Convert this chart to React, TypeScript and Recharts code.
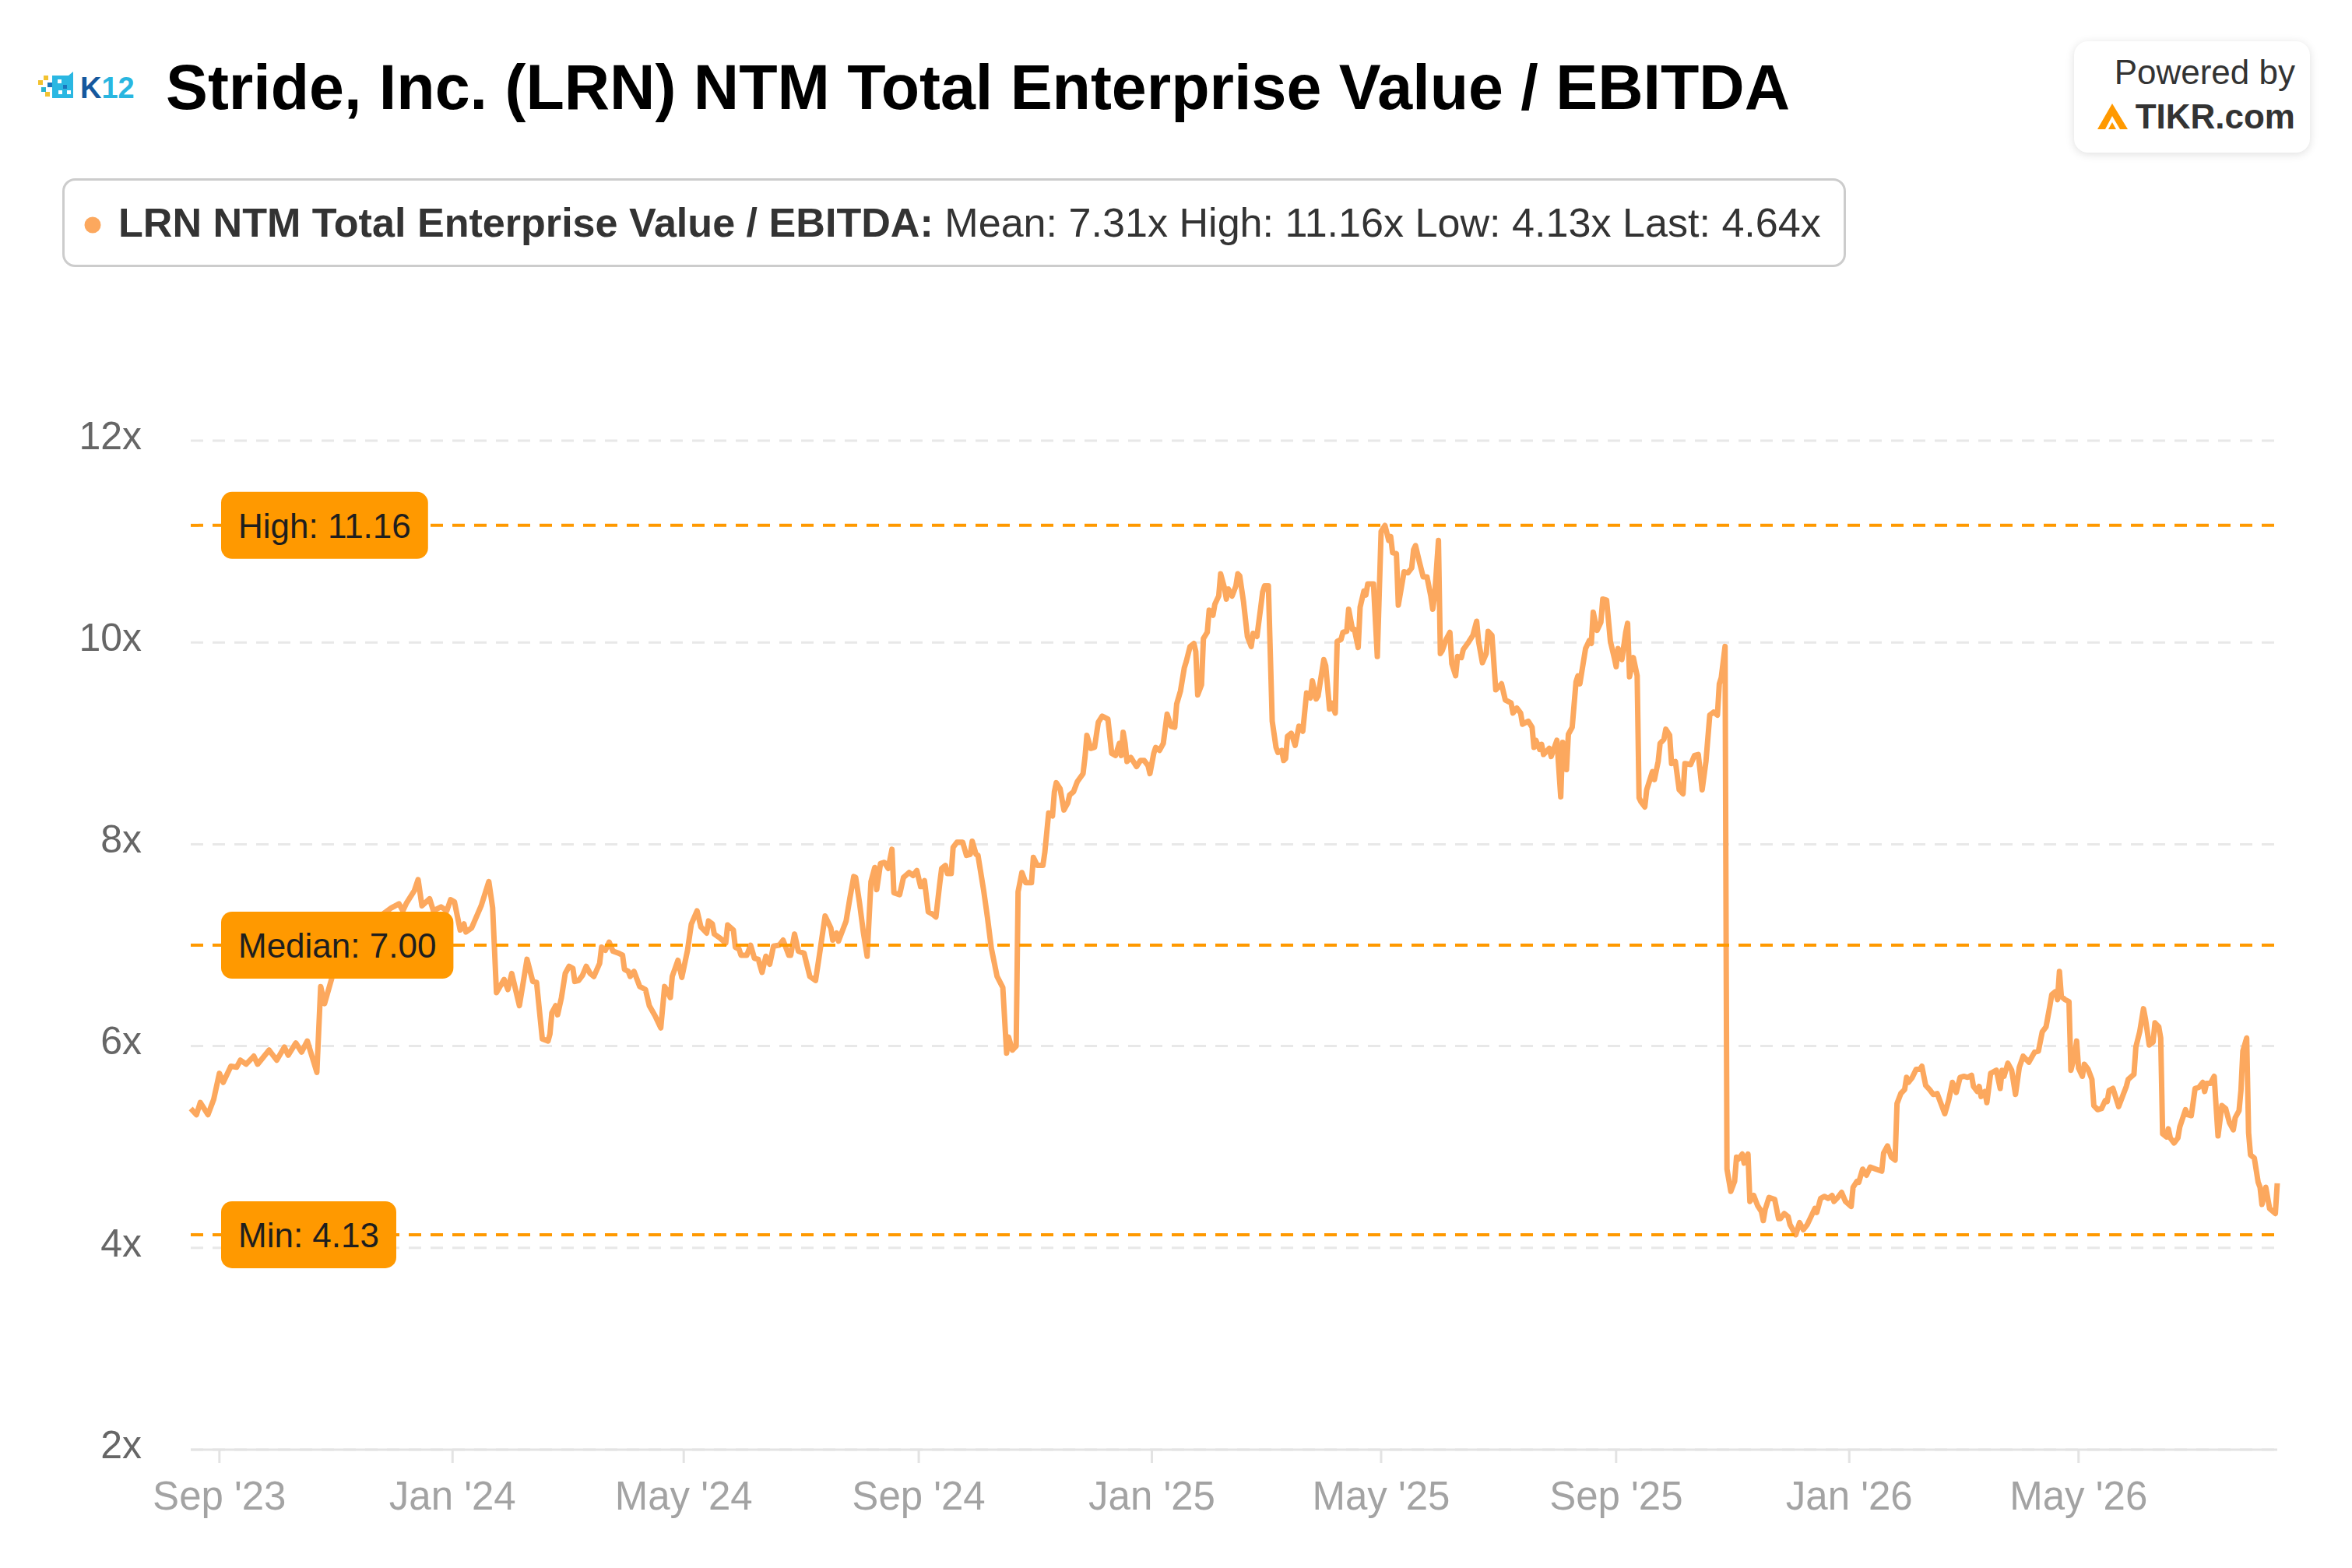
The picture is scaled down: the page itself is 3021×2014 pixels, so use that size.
import React from "react";
import {
  CartesianGrid,
  Line,
  LineChart,
  ReferenceLine,
  XAxis,
  YAxis,
} from "recharts";

const FONT = '"Liberation Sans", Arial, Helvetica, sans-serif';
const LINE_COLOR = "#fca85e";
const MARK_COLOR = "#ff9900";

// first data point is 17 Aug 2023, offsets below are days from it
const START = Date.UTC(2023, 7, 17);
const DAY = 86400000;

const offsetDays = [
  0, 3, 5, 9, 12, 15, 17, 21, 24, 26, 29, 33, 35, 41, 45, 49, 51, 55, 58, 61,
  66, 68, 70, 75, 81, 88, 94, 100, 105, 109, 111, 113, 117, 119, 121, 125, 127, 131, 134, 136,
  138, 141, 143, 144, 147, 152, 156, 158, 160, 164, 166, 168, 172, 176, 179, 181, 184, 187, 188, 189,
  191, 192, 194, 196, 198, 200, 201, 203, 205, 207, 209, 211, 214, 215, 217, 219, 221, 224, 226, 227,
  229, 230, 232, 235, 238, 240, 243, 246, 248, 249, 251, 252, 255, 257, 260, 262, 265, 267, 270, 271,
  273, 274, 277, 280, 281, 284, 285, 287, 288, 291, 293, 295, 297, 299, 301, 303, 305, 308, 310, 313,
  314, 316, 318, 321, 324, 327, 329, 332, 335, 336, 338, 339, 343, 345, 347, 348, 350, 352, 354, 356,
  358, 359, 361, 363, 365, 367, 368, 371, 373, 376, 378, 380, 382, 383, 384, 386, 388, 390, 392, 393,
  395, 396, 398, 399, 401, 403, 404, 406, 408, 409, 411, 412, 415, 417, 419, 422, 425, 427, 428, 430,
  432, 433, 435, 437, 440, 441, 443, 446, 447, 449, 451, 452, 453, 455, 457, 459, 460, 462, 464, 467,
  468, 469, 471, 473, 475, 477, 478, 480, 482, 484, 486, 487, 488, 489, 490, 492, 495, 497, 499, 501,
  502, 504, 505, 507, 509, 511, 513, 515, 516, 518, 520, 521, 523, 525, 526, 527, 529, 530, 532, 533,
  535, 536, 538, 539, 541, 542, 543, 545, 547, 548, 549, 551, 553, 555, 556, 558, 560, 561, 562, 564,
  566, 568, 569, 571, 572, 573, 574, 576, 578, 580, 582, 584, 586, 587, 589, 590, 593, 594, 596, 597,
  599, 600, 602, 603, 605, 606, 608, 609, 611, 612, 614, 615, 616, 619, 621, 623, 625, 627, 628, 629,
  631, 632, 635, 637, 639, 640, 641, 643, 645, 647, 649, 650, 651, 653, 654, 655, 657, 659, 660, 662,
  663, 665, 666, 669, 671, 673, 674, 676, 678, 679, 681, 683, 686, 688, 691, 692, 694, 696, 697, 700,
  702, 703, 704, 706, 707, 708, 711, 712, 715, 717, 718, 720, 721, 723, 725, 726, 727, 730, 732, 733,
  734, 736, 738, 739, 741, 743, 745, 746, 747, 749, 751, 752, 753, 755, 757, 758, 759, 761, 762, 763,
  765, 766, 768, 769, 771, 772, 774, 775, 777, 779, 781, 782, 785, 787, 789, 791, 793, 795, 797, 799,
  800, 801, 803, 804, 806, 808, 809, 810, 812, 813, 815, 816, 818, 820, 822, 823, 824, 826, 829, 831,
  832, 834, 836, 837, 840, 842, 844, 846, 848, 850, 851, 853, 855, 857, 859, 860, 862, 864, 866, 869,
  870, 872, 873, 875, 877, 879, 882, 885, 886, 888, 890, 892, 893, 895, 897, 898, 899, 901, 903, 905,
  906, 908, 910, 912, 914, 916, 918, 920, 922, 924, 926, 928, 930, 932, 933, 935, 936, 937, 939, 940,
  942, 943, 945, 947, 948, 949, 951, 953, 955, 957, 959, 962, 965, 967, 969, 971, 973, 974, 976, 977,
  978, 979, 981, 983, 984, 986, 987, 988, 990, 991, 993, 995, 996, 998, 1000, 1002, 1003, 1004, 1006, 1009,
  1013, 1014, 1017, 1018, 1020, 1022, 1023, 1025, 1027, 1028, 1030, 1031, 1032, 1034, 1035, 1036, 1038, 1040, 1041, 1044,
  1045, 1047, 1049, 1051, 1053, 1054, 1055, 1057, 1059, 1060, 1061, 1063, 1065, 1067, 1069, 1070, 1072, 1073, 1074, 1076,
  1077, 1078, 1080, 1082, 1083, 1084, 1086, 1088, 1091, 1092,
];

const evEbitda = [
  5.38, 5.32, 5.44, 5.32, 5.47, 5.73, 5.64, 5.8, 5.79, 5.86, 5.82, 5.9, 5.82, 5.96, 5.86, 5.99, 5.91, 6.03, 5.94, 6.05,
  5.74, 6.59, 6.42, 6.75, 6.95, 7.1, 7.2, 7.3, 7.37, 7.41, 7.34, 7.42, 7.54, 7.65, 7.39, 7.46, 7.34, 7.38, 7.34, 7.45,
  7.43, 7.15, 7.21, 7.13, 7.17, 7.39, 7.63, 7.37, 6.53, 6.66, 6.56, 6.72, 6.4, 6.86, 6.64, 6.63, 6.07, 6.05, 6.12, 6.33,
  6.4, 6.31, 6.48, 6.72, 6.79, 6.77, 6.64, 6.65, 6.7, 6.79, 6.72, 6.69, 6.82, 6.98, 6.95, 7.03, 6.94, 6.92, 6.9, 6.76,
  6.74, 6.69, 6.74, 6.59, 6.56, 6.4, 6.3, 6.18, 6.59, 6.56, 6.48, 6.69, 6.85, 6.68, 6.95, 7.21, 7.34, 7.18, 7.12, 7.24,
  7.21, 7.11, 7.07, 7.02, 7.2, 7.15, 6.98, 6.96, 6.9, 6.9, 7.0, 6.87, 6.86, 6.73, 6.89, 6.81, 6.99, 7.0, 7.05, 6.9,
  6.9, 7.11, 6.94, 6.92, 6.69, 6.65, 6.9, 7.29, 7.17, 7.05, 7.12, 7.04, 7.24, 7.47, 7.68, 7.67, 7.42, 7.13, 6.89, 7.63,
  7.77, 7.55, 7.81, 7.82, 7.76, 7.95, 7.52, 7.5, 7.67, 7.72, 7.69, 7.74, 7.58, 7.58, 7.64, 7.33, 7.31, 7.28, 7.61, 7.76,
  7.79, 7.71, 7.71, 7.97, 8.02, 8.02, 8.02, 7.89, 7.9, 8.03, 7.9, 7.89, 7.54, 7.27, 6.97, 6.69, 6.58, 5.93, 6.09, 5.96,
  6.0, 7.53, 7.72, 7.62, 7.62, 7.87, 7.79, 7.79, 7.92, 8.31, 8.28, 8.52, 8.61, 8.55, 8.34, 8.41, 8.49, 8.52, 8.62, 8.7,
  8.86, 9.08, 8.95, 8.96, 9.21, 9.27, 9.26, 9.24, 8.9, 8.88, 9.0, 8.88, 9.11, 9.0, 8.82, 8.86, 8.77, 8.83, 8.83, 8.78,
  8.7, 8.9, 8.96, 8.93, 9.0, 9.29, 9.17, 9.16, 9.39, 9.52, 9.75, 9.81, 9.96, 9.99, 9.91, 9.48, 9.58, 10.04, 10.1, 10.32,
  10.27, 10.38, 10.46, 10.68, 10.54, 10.43, 10.53, 10.46, 10.56, 10.68, 10.66, 10.4, 10.06, 9.96, 10.09, 10.06, 10.35, 10.5, 10.56, 10.56,
  9.22, 8.96, 8.91, 8.93, 8.83, 8.85, 9.07, 9.1, 8.98, 9.17, 9.12, 9.5, 9.45, 9.62, 9.44, 9.47, 9.83, 9.77, 9.34, 9.4,
  9.3, 10.01, 10.03, 10.1, 10.11, 10.33, 10.13, 10.13, 9.95, 10.35, 10.51, 10.47, 10.58, 10.58, 9.86, 11.1, 11.16, 11.01, 11.05, 10.89,
  10.88, 10.37, 10.7, 10.69, 10.74, 10.92, 10.96, 10.8, 10.65, 10.65, 10.46, 10.33, 10.46, 11.01, 9.89, 9.92, 10.03, 10.1, 9.79, 9.67,
  9.86, 9.85, 9.93, 10.01, 10.07, 10.21, 10.01, 9.8, 9.89, 10.11, 10.07, 9.53, 9.59, 9.43, 9.4, 9.3, 9.35, 9.3, 9.19, 9.22,
  9.16, 8.96, 9.03, 8.94, 8.99, 8.89, 8.95, 8.87, 9.03, 8.47, 9.01, 8.74, 9.09, 9.16, 9.61, 9.67, 9.59, 9.94, 10.02, 9.99,
  10.3, 10.12, 10.2, 10.43, 10.42, 10.01, 9.85, 9.76, 9.94, 9.83, 10.1, 10.19, 9.66, 9.85, 9.67, 8.46, 8.42, 8.37, 8.54, 8.6,
  8.72, 8.64, 8.82, 9.0, 9.04, 9.14, 9.08, 8.8, 8.82, 8.54, 8.5, 8.8, 8.79, 8.88, 8.89, 8.54, 8.82, 9.28, 9.31, 9.28,
  9.59, 9.65, 9.96, 4.78, 4.56, 4.66, 4.9, 4.88, 4.93, 4.84, 4.93, 4.46, 4.52, 4.42, 4.36, 4.27, 4.38, 4.5, 4.48, 4.29,
  4.29, 4.34, 4.31, 4.23, 4.13, 4.25, 4.18, 4.23, 4.31, 4.39, 4.35, 4.49, 4.51, 4.49, 4.52, 4.46, 4.5, 4.55, 4.46, 4.41,
  4.6, 4.66, 4.65, 4.78, 4.72, 4.8, 4.78, 4.76, 4.94, 5.01, 4.9, 4.87, 5.43, 5.53, 5.57, 5.69, 5.64, 5.69, 5.77, 5.77,
  5.8, 5.61, 5.57, 5.52, 5.53, 5.43, 5.33, 5.46, 5.64, 5.54, 5.69, 5.7, 5.69, 5.71, 5.6, 5.55, 5.6, 5.5, 5.55, 5.44,
  5.73, 5.74, 5.76, 5.58, 5.76, 5.7, 5.83, 5.76, 5.52, 5.79, 5.9, 5.84, 5.94, 5.95, 6.14, 6.19, 6.4, 6.51, 6.54, 6.46,
  6.74, 6.49, 6.46, 6.44, 5.76, 5.91, 6.05, 5.78, 5.7, 5.82, 5.77, 5.67, 5.41, 5.37, 5.38, 5.46, 5.45, 5.56, 5.58, 5.4,
  5.6, 5.67, 5.72, 5.99, 6.14, 6.37, 6.27, 6.01, 6.04, 6.23, 6.19, 6.08, 5.13, 5.1, 5.18, 5.09, 5.04, 5.09, 5.2, 5.37,
  5.32, 5.31, 5.58, 5.59, 5.64, 5.55, 5.63, 5.63, 5.7, 5.4, 5.11, 5.41, 5.38, 5.24, 5.17, 5.29, 5.36, 5.56, 5.95, 6.08,
  5.14, 4.92, 4.89, 4.65, 4.6, 4.43, 4.6, 4.39, 4.34, 4.64,
];

const tickMonths = [
  "2023-09-01", "2024-01-01", "2024-05-01", "2024-09-01", "2025-01-01",
  "2025-05-01", "2025-09-01", "2026-01-01", "2026-05-01",
];
const monthNames = ["Jan", "Feb", "Mar", "Apr", "May", "Jun", "Jul", "Aug", "Sep", "Oct", "Nov", "Dec"];
const yTicks = [2, 4, 6, 8, 10, 12];

const statNames = ["Mean", "High", "Low", "Last"];
const statValues = [7.31, 11.16, 4.13, 4.64];

const markerNames = ["High", "Median", "Min"];
const markerValues = [11.16, 7.0, 4.13];

const data = offsetDays.map((d, i) => ({ t: START + d * DAY, v: evEbitda[i] }));
const xTicks = tickMonths.map((s) => Date.parse(s + "T00:00:00Z"));
const lastDay = offsetDays[offsetDays.length - 1];

function fmtMonth(ts: number) {
  const d = new Date(ts);
  return `${monthNames[d.getUTCMonth()]} '${String(d.getUTCFullYear()).slice(2)}`;
}

let measureCtx: CanvasRenderingContext2D | null = null;
function textWidth(text: string, size: number) {
  if (!measureCtx) measureCtx = document.createElement("canvas").getContext("2d");
  if (!measureCtx) return text.length * size * 0.55;
  measureCtx.font = `${size}px ${FONT}`;
  return measureCtx.measureText(text).width;
}

function Badge({ viewBox, text }: { viewBox: any; text: string }) {
  if (!viewBox) return null;
  const x = viewBox.x + 39;
  const y = viewBox.y;
  const w = textWidth(text, 44) + 44;
  return (
    <g>
      <rect x={x} y={y - 43} width={w} height={86} rx={14} fill={MARK_COLOR} />
      <text x={x + 22} y={y} dy="0.36em" fontSize={44} fill="#1e1e1e" fontFamily={FONT}>
        {text}
      </text>
    </g>
  );
}

function K12Logo() {
  return (
    <g>
      <rect x={49} y={103} width={6} height={6} fill="#f2c230" />
      <rect x={56} y={97} width={6} height={6} fill="#f2c230" />
      <rect x={53} y={112} width={6} height={6} fill="#2bb5cf" />
      <rect x={58} y={118} width={6} height={6} fill="#f2c230" />
      <rect x={61} y={106} width={6} height={6} fill="#1b75bc" />
      <polygon points="67,97 88,97 94,92 94,126 67,126" fill="#2ab7e2" />
      <rect x={74} y={102} width={5} height={5} fill="#fff" />
      <rect x={81} y={109} width={5} height={5} fill="#1b75bc" />
      <rect x={75} y={116} width={5} height={5} fill="#fff" />
      <rect x={86} y={116} width={5} height={5} fill="#fff" />
      <text x={103} y={126} fontSize={38} fontWeight="bold" fontFamily={FONT}>
        <tspan fill="#15589e">K</tspan>
        <tspan fill="#29b6e0">12</tspan>
      </text>
    </g>
  );
}

export default function App() {
  const statText = statNames.map((n, i) => `${n}: ${statValues[i].toFixed(2)}x`).join(" ");

  return (
    <div style={{ position: "absolute", left: 0, top: 0, width: 3021, height: 2014, background: "#fff" }}>
      <LineChart
        width={3021}
        height={2014}
        data={data}
        margin={{ top: 566, right: 96, bottom: 52, left: 0 }}
      >
        <CartesianGrid vertical={false} stroke="#e8e8e8" strokeWidth={3} strokeDasharray="16 12" />
        <XAxis
          type="number"
          dataKey="t"
          domain={[START, START + lastDay * DAY]}
          ticks={xTicks}
          interval={0}
          tickFormatter={fmtMonth}
          axisLine={{ stroke: "#e3e3e3", strokeWidth: 3 }}
          tickLine={{ stroke: "#e3e3e3", strokeWidth: 3 }}
          tickSize={17}
          tickMargin={24}
          height={100}
          tick={{ fill: "#a3a3a3", fontSize: 51, fontFamily: FONT }}
        />
        <YAxis
          domain={[2, 12]}
          ticks={yTicks}
          interval={0}
          tickFormatter={(v: number) => `${v}x`}
          axisLine={false}
          tickLine={false}
          tickSize={0}
          tickMargin={63}
          width={245}
          tick={{ fill: "#666666", fontSize: 50, fontFamily: FONT, dy: -7 }}
        />
        <Line
          type="linear"
          dataKey="v"
          stroke={LINE_COLOR}
          strokeWidth={7}
          strokeLinejoin="round"
          dot={false}
          activeDot={false}
          isAnimationActive={false}
        />
        {markerValues.map((v, i) => (
          <ReferenceLine
            key={markerNames[i]}
            y={v}
            stroke={MARK_COLOR}
            strokeWidth={4}
            strokeDasharray="16 12"
            label={(p: any) => (
              <Badge viewBox={p.viewBox} text={`${markerNames[i]}: ${v.toFixed(2)}`} />
            )}
          />
        ))}
      </LineChart>

      <div
        style={{
          position: "absolute",
          left: 2664,
          top: 53,
          width: 303,
          height: 143,
          borderRadius: 18,
          background: "#fff",
          boxShadow: "0 2px 12px rgba(0,0,0,0.13)",
        }}
      />

      <svg
        width={3021}
        height={2014}
        style={{ position: "absolute", left: 0, top: 0, pointerEvents: "none" }}
      >
        <K12Logo />
        <text x={213} y={140} fontSize={80.8} fontWeight="bold" fill="#000" fontFamily={FONT}>
          Stride, Inc. (LRN) NTM Total Enterprise Value / EBITDA
        </text>

        <rect x={81.5} y={230.5} width={2288} height={111} rx={15} fill="#fff" stroke="#cccccc" strokeWidth={3} />
        <circle cx={119} cy={289} r={10.5} fill={LINE_COLOR} />
        <text x={152} y={304} fontSize={52.1} fill="#333" fontFamily={FONT} style={{ whiteSpace: "pre" }}>
          <tspan fontWeight="bold">LRN NTM Total Enterprise Value / EBITDA:</tspan>
          <tspan>{" " + statText}</tspan>
        </text>

        <text x={2948} y={108} fontSize={44} fill="#333" textAnchor="end" fontFamily={FONT}>
          Powered by
        </text>
        <g transform="translate(2694,133)">
          <polygon points="0,33 19,0 39,33 29,33 19,16 10,33" fill={MARK_COLOR} />
          <polygon points="14,33 19,24 24,33" fill={MARK_COLOR} />
        </g>
        <text x={2948} y={165} fontSize={44} fontWeight="bold" fill="#333" textAnchor="end" fontFamily={FONT}>
          TIKR.com
        </text>
      </svg>
    </div>
  );
}
